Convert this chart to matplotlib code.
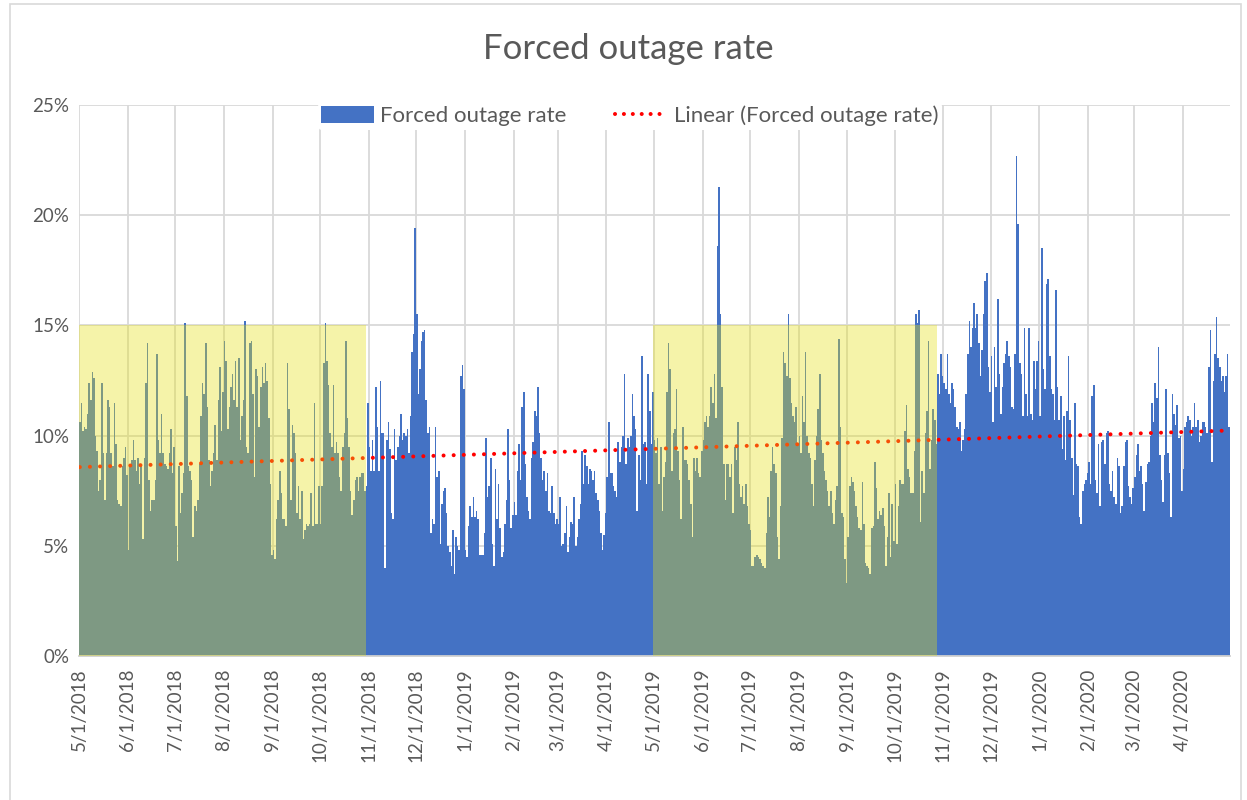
import matplotlib
matplotlib.use("Agg")
import matplotlib.pyplot as plt
import matplotlib.dates as mdates
from matplotlib.patches import Patch, Rectangle
from matplotlib.lines import Line2D
import numpy as np
import pandas as pd

plt.rcParams['font.family'] = ['Lato', 'DejaVu Sans']

# daily forced outage rate (%)
may_2018 = [10.6, 11.5, 10.2, 10.4, 10.3, 11.0, 12.4, 11.6, 12.9, 12.6, 10.0, 9.3, 7.5, 8.0, 12.4, 9.2,
            7.1, 9.2, 11.6, 11.3, 9.2, 8.6, 11.5, 9.6, 7.1, 6.9, 6.8, 8.6, 9.0, 9.5, 8.2]
jun_2018 = [4.8, 8.7, 8.9, 9.8, 8.9, 8.4, 9.0, 7.8, 8.7, 5.3, 9.0, 12.4, 14.2, 8.0, 6.6, 7.1,
            7.1, 8.0, 13.7, 9.8, 9.2, 11.0, 9.2, 8.7, 8.6, 8.5, 9.2, 10.3, 8.3, 9.5]
jul_2018 = [5.9, 4.3, 8.6, 6.5, 7.4, 8.3, 15.1, 11.8, 8.6, 8.4, 8.0, 5.4, 6.8, 6.6, 7.1, 8.7,
            10.9, 12.4, 11.9, 14.2, 11.3, 8.9, 7.7, 8.4, 9.2, 10.5, 8.9, 11.6, 13.1, 10.2, 12.0]
aug_2018 = [14.3, 13.4, 10.3, 11.3, 12.2, 12.8, 11.6, 13.4, 11.3, 13.5, 9.8, 10.9, 11.6, 15.2, 9.5, 9.2,
            14.2, 14.3, 11.9, 8.1, 13.0, 12.7, 10.4, 12.2, 13.1, 12.4, 13.3, 12.5, 10.8, 7.8, 4.6]
sep_2018 = [4.8, 4.4, 6.2, 7.1, 8.4, 7.4, 6.2, 6.2, 5.9, 13.3, 11.2, 7.1, 10.5, 10.1, 9.2, 6.5,
            7.7, 6.2, 7.5, 5.3, 5.7, 6.0, 5.9, 6.0, 7.4, 5.9, 11.5, 6.0, 6.0, 7.7]
oct_2018 = [6.0, 7.7, 13.3, 15.1, 13.4, 12.3, 10.1, 9.5, 12.3, 9.2, 9.7, 9.2, 8.1, 7.5, 9.5, 10.1,
            14.3, 10.8, 9.5, 7.5, 6.4, 7.1, 8.0, 8.1, 7.5, 8.1, 8.3, 8.3, 7.5, 7.7, 11.5]
nov_2018 = [9.5, 8.4, 9.8, 8.4, 12.2, 10.4, 8.4, 12.5, 10.1, 10.1, 4.0, 9.8, 10.6, 9.4, 6.5, 6.2,
            10.3, 8.9, 9.5, 10.0, 11.0, 9.8, 10.1, 10.0, 10.3, 9.2, 10.9, 13.8, 14.6, 19.4]
dec_2018 = [15.5, 11.9, 13.0, 14.3, 14.7, 14.8, 11.6, 10.1, 10.4, 5.6, 6.2, 6.0, 10.4, 8.1, 8.4, 5.1,
            6.9, 7.5, 7.6, 6.5, 5.0, 4.7, 4.1, 5.7, 3.7, 5.4, 5.0, 4.8, 12.7, 13.2, 12.1]
jan_2019 = [4.8, 4.5, 5.9, 6.8, 6.3, 7.2, 6.3, 6.6, 6.2, 4.6, 4.6, 4.6, 5.6, 9.9, 7.2, 7.7,
            9.0, 5.1, 4.1, 8.5, 6.2, 7.8, 5.8, 4.5, 4.7, 6.0, 7.1, 10.3, 8.0, 5.8, 6.4]
feb_2019 = [7.0, 6.4, 8.4, 9.6, 8.0, 11.3, 12.0, 8.7, 7.2, 6.6, 6.2, 9.0, 9.7, 11.1, 10.9, 12.2,
            10.1, 9.0, 8.0, 8.4, 7.5, 8.3, 6.6, 6.5, 7.7, 6.5, 6.0, 6.2]
mar_2019 = [6.0, 7.2, 5.0, 5.1, 5.6, 6.8, 4.7, 5.4, 6.1, 6.0, 7.2, 5.0, 5.4, 6.2, 6.9, 9.3,
            7.8, 9.1, 8.6, 7.8, 8.5, 8.4, 8.0, 8.4, 7.4, 7.1, 6.6, 5.6, 4.8, 5.5, 6.5]
apr_2019 = [8.1, 10.6, 8.3, 8.3, 7.7, 7.5, 7.2, 9.7, 8.8, 9.5, 10.0, 12.8, 8.7, 9.9, 9.5, 10.0,
            11.9, 10.9, 10.3, 6.6, 9.1, 8.0, 13.6, 9.6, 9.7, 7.8, 12.8, 11.1, 9.6, 12.0]
may_2019 = [9.8, 9.2, 9.9, 7.8, 9.5, 6.6, 8.1, 8.8, 12.0, 14.2, 13.0, 8.4, 10.1, 10.3, 12.1, 9.3,
            8.0, 6.2, 10.4, 8.9, 8.9, 8.7, 8.0, 6.9, 5.4, 9.0, 8.4, 9.0, 8.3, 8.1, 9.3]
jun_2019 = [9.8, 10.6, 10.9, 10.4, 10.9, 12.2, 11.5, 12.8, 10.8, 18.6, 21.3, 15.5, 12.2, 8.7, 7.1, 8.7,
            8.7, 8.1, 8.7, 6.5, 9.5, 8.9, 10.6, 7.8, 7.2, 7.7, 6.9, 7.8, 6.8, 6.0]
jul_2019 = [5.7, 4.1, 4.1, 4.5, 4.6, 4.5, 4.4, 4.2, 4.1, 4.0, 5.6, 7.2, 6.3, 8.4, 9.5, 8.7,
            8.3, 5.4, 4.4, 6.8, 9.9, 13.8, 13.3, 12.7, 15.5, 12.6, 11.5, 10.9, 10.6, 11.3, 9.6]
aug_2019 = [10.0, 9.2, 11.8, 10.6, 13.8, 10.0, 9.2, 9.0, 7.8, 6.8, 8.9, 10.0, 11.2, 12.8, 9.8, 9.2,
            8.4, 8.0, 7.5, 6.8, 7.5, 6.5, 6.0, 7.1, 7.7, 14.4, 10.4, 6.5, 6.3, 4.4, 3.3]
sep_2019 = [5.4, 7.7, 8.1, 7.9, 7.5, 6.8, 6.3, 5.8, 5.7, 7.9, 6.0, 4.2, 4.1, 4.0, 3.7, 5.8,
            5.9, 8.8, 7.6, 6.2, 6.6, 6.4, 6.7, 5.9, 4.1, 5.4, 7.4, 4.5, 6.9, 5.2]
oct_2019 = [7.8, 5.1, 6.8, 8.0, 7.8, 7.8, 10.2, 11.4, 8.5, 8.1, 7.4, 7.4, 9.3, 15.5, 15.1, 15.7,
            6.1, 8.4, 7.4, 10.1, 11.1, 14.3, 8.5, 9.8, 11.2, 10.7, 9.6, 12.8, 11.9, 13.7, 12.7]
nov_2019 = [12.4, 12.1, 13.7, 11.9, 11.5, 12.4, 12.1, 11.3, 10.4, 10.3, 10.6, 9.3, 9.8, 10.3, 11.9, 13.7,
            15.2, 14.0, 14.9, 16.0, 14.9, 15.5, 14.2, 12.7, 13.9, 15.5, 17.0, 17.4, 13.1, 12.0]
dec_2019 = [13.6, 10.6, 14.0, 12.2, 16.2, 12.8, 11.0, 12.2, 13.3, 13.7, 14.3, 13.6, 13.1, 11.3, 11.2, 13.7,
            22.7, 19.6, 13.3, 12.8, 10.9, 14.9, 11.9, 10.9, 14.9, 11.0, 10.7, 13.4, 12.1, 13.4, 14.3]
jan_2020 = [10.9, 18.5, 13.0, 12.1, 16.9, 17.1, 13.6, 12.1, 11.9, 10.7, 16.6, 12.2, 10.7, 11.8, 9.4, 10.9,
            8.9, 11.1, 13.6, 10.7, 9.0, 7.3, 11.5, 8.7, 8.6, 6.3, 6.0, 7.5, 7.8, 8.0, 8.3]
feb_2020 = [8.8, 7.8, 11.8, 12.3, 8.0, 7.4, 9.6, 6.8, 9.7, 9.8, 8.7, 10.1, 10.2, 7.8, 7.5, 8.4,
            7.2, 6.9, 9.0, 8.6, 6.5, 6.8, 8.6, 9.7, 9.8, 7.7, 7.2, 6.9, 7.6]
mar_2020 = [8.1, 9.1, 9.6, 8.4, 8.6, 7.8, 6.6, 7.9, 8.7, 8.8, 10.0, 11.5, 10.6, 12.4, 11.7, 14.0,
            9.1, 8.0, 7.0, 9.1, 12.1, 9.2, 8.3, 6.3, 11.9, 11.0, 10.5, 11.4, 9.9, 10.0, 7.5]
apr_2020 = [8.5, 10.4, 10.6, 10.9, 10.7, 10.0, 10.4, 11.5, 10.4, 10.7, 9.7, 10.0, 10.6, 10.6, 10.4, 10.1,
            13.1, 14.8, 8.8, 12.5, 13.7, 15.4, 13.5, 13.1, 12.5, 12.7, 12.0, 12.7, 13.7, 10.4]

months = [may_2018, jun_2018, jul_2018, aug_2018, sep_2018, oct_2018, nov_2018, dec_2018,
          jan_2019, feb_2019, mar_2019, apr_2019, may_2019, jun_2019, jul_2019, aug_2019,
          sep_2019, oct_2019, nov_2019, dec_2019, jan_2020, feb_2020, mar_2020, apr_2020]
rate = np.concatenate(months) / 100.0
dates = pd.date_range('2018-05-01', periods=len(rate), freq='D')

# summer periods highlighted in the original (shape drawn over the chart)
highlights = [('2018-05-01', '2018-10-30 06:00'), ('2019-04-30 08:00', '2019-10-28 05:00')]
highlight_top = 0.15

month_ticks = pd.date_range('2018-05-01', '2020-04-01', freq='MS')
tick_labels = [f"{d.month}/{d.day}/{d.year}" for d in month_ticks]

BLUE = '#4472C4'
GREY_TEXT = '#595959'
GRID = '#D9D9D9'

fig = plt.figure(figsize=(12.47, 8.0), dpi=100)
ax = fig.add_axes([79 / 1247, 144 / 800, 1151 / 1247, 551 / 800])

centers = dates + pd.Timedelta(hours=12)
ax.bar(centers, rate, width=1.0, color=BLUE, edgecolor='none', zorder=2)

# linear trend
x = np.arange(len(rate))
slope, intercept = np.polyfit(x, rate, 1)
ax.plot(centers, intercept + slope * x, color='#FF0000', lw=2.9,
        linestyle=(0, (0.01, 2.5)), dash_capstyle='round', zorder=3)

for start, end in highlights:
    s = mdates.date2num(pd.Timestamp(start))
    e = mdates.date2num(pd.Timestamp(end))
    ax.add_patch(Rectangle((s, 0), e - s, highlight_top, facecolor=(229 / 255, 223 / 255, 18 / 255),
                           alpha=0.36, edgecolor='none', zorder=4))

ax.set_xlim(pd.Timestamp('2018-05-01'), pd.Timestamp('2020-05-01'))
ax.set_ylim(0, 0.25)
ax.set_yticks(np.arange(0, 0.26, 0.05))
ax.set_yticklabels([f"{int(round(v * 100))}%" for v in np.arange(0, 0.26, 0.05)])
ax.set_xticks(month_ticks)
ax.set_xticklabels(tick_labels, rotation=90)
ax.tick_params(axis='both', length=0, colors=GREY_TEXT, labelsize=13.5)
ax.tick_params(axis='x', pad=9)
ax.tick_params(axis='y', pad=7)

ax.grid(True, color=GRID, lw=1.3, zorder=0)
ax.set_axisbelow(True)
for side in ['top', 'right', 'left']:
    ax.spines[side].set_visible(False)
ax.spines['bottom'].set_color('#D0D0D0')
ax.spines['bottom'].set_linewidth(1.3)

fig.text(0.504, 0.939, 'Forced outage rate', ha='center', va='center', fontsize=25, color=GREY_TEXT)

handles = [Patch(facecolor=BLUE, edgecolor='none'),
           Line2D([0], [0], color='#FF0000', lw=2.9, linestyle=(0, (0.01, 2.2)), dash_capstyle='round')]
leg = fig.legend(handles, ['Forced outage rate', 'Linear (Forced outage rate)'], ncol=2,
                 loc='center', bbox_to_anchor=(0.505, 0.855), fontsize=16, frameon=True,
                 handlelength=2.4, handleheight=0.75, handletextpad=0.25, columnspacing=2.2,
                 borderpad=0.15, labelcolor=GREY_TEXT)
leg.get_frame().set_facecolor('white')
leg.get_frame().set_edgecolor('none')
leg.get_frame().set_alpha(1.0)

# chart area outline
fig.add_artist(Rectangle((10 / 1247, -0.05), 1231 / 1247, 1.05 - 4 / 800, transform=fig.transFigure,
                         fill=False, edgecolor='#D9D9D9', lw=1.2))

fig.savefig('out.png', dpi=100)
